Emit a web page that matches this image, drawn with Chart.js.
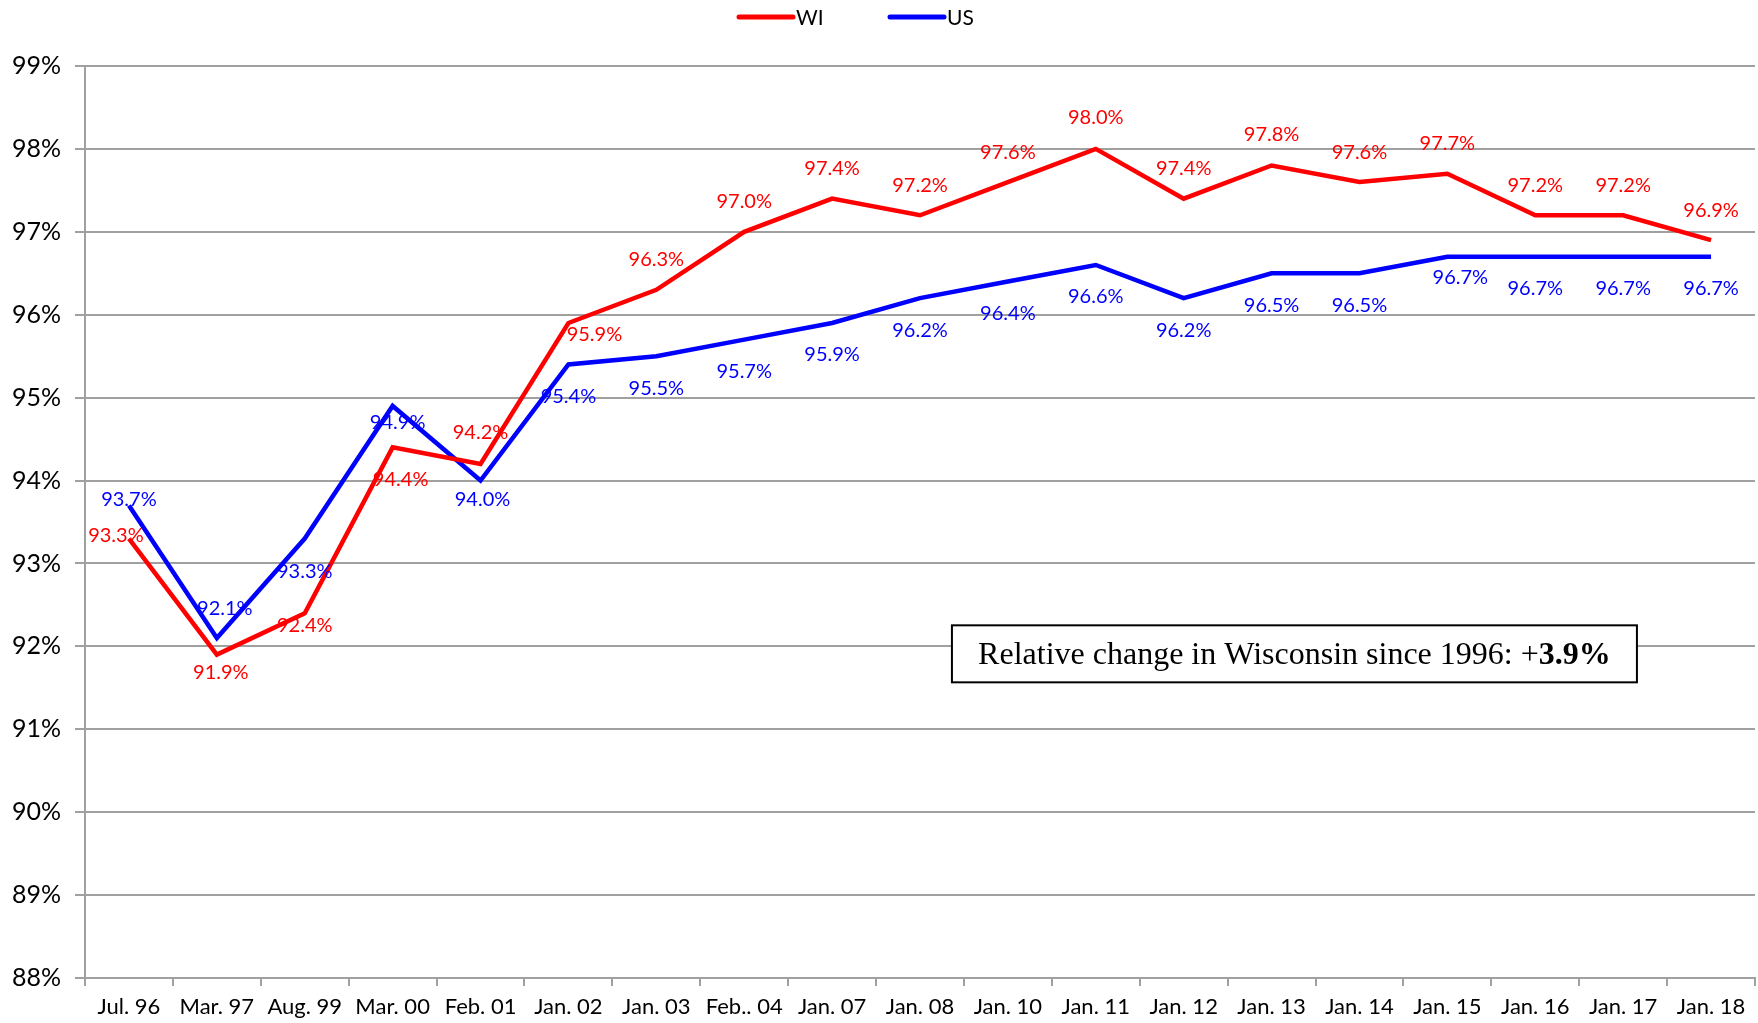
<!DOCTYPE html>
<html>
<head>
<meta charset="utf-8">
<script src="https://cdn.jsdelivr.net/npm/chart.js@4"></script>
<style>
  html, body { margin: 0; padding: 0; background: #fff; }
  #wrap { width: 1758px; height: 1023px; }
</style>
</head>
<body>
<div id="wrap"><canvas id="chart"></canvas></div>
<script>
// données
const categories = ["Jul. 96", "Mar. 97", "Aug. 99", "Mar. 00", "Feb. 01", "Jan. 02", "Jan. 03", "Feb.. 04", "Jan. 07", "Jan. 08",
  "Jan. 10", "Jan. 11", "Jan. 12", "Jan. 13", "Jan. 14", "Jan. 15", "Jan. 16", "Jan. 17", "Jan. 18"];
const wiValues = [93.3, 91.9, 92.4, 94.4, 94.2, 95.9, 96.3, 97.0, 97.4, 97.2, 97.6, 98.0, 97.4, 97.8, 97.6, 97.7, 97.2, 97.2, 96.9];
const usValues = [93.7, 92.1, 93.3, 94.9, 94.0, 95.4, 95.5, 95.7, 95.9, 96.2, 96.4, 96.6, 96.2, 96.5, 96.5, 96.7, 96.7, 96.7, 96.7];
const yTicks = [88, 89, 90, 91, 92, 93, 94, 95, 96, 97, 98, 99];
const noteText = "Relative change in Wisconsin since 1996: +";
const noteValue = "3.9%";

// décalage des étiquettes (px) par point
const wiLabelShift = [[-13, -3], [4, 18], [0, 12], [8, 32], [0, -31], [26, 12], [0, -30], [0, -30], [0, -30], [0, -30],
  [0, -30], [0, -31], [0, -30], [0, -31], [0, -30], [0, -30], [0, -30], [0, -30], [0, -30]];
const usLabelShift = [[0, -6], [8, -30], [0, 33], [5, 17], [2, 19], [0, 32], [0, 32], [0, 32], [0, 32], [0, 32],
  [0, 32], [0, 32], [0, 32], [0, 32], [0, 32], [13, 21], [0, 32], [0, 32], [0, 32]];

const FONT = "Lato";
const GRID = "#a0a0a0";

// étiquettes de valeurs
const valueLabels = {
  id: "valueLabels",
  afterDatasetsDraw(chart) {
    const ctx = chart.ctx;
    ctx.save();
    ctx.font = "20px " + FONT;
    ctx.textAlign = "center";
    ctx.textBaseline = "middle";
    chart.data.datasets.forEach((ds, di) => {
      const meta = chart.getDatasetMeta(di);
      meta.data.forEach((pt, i) => {
        const sh = ds.labelShift[i];
        ctx.fillStyle = ds.borderColor;
        ctx.fillText(ds.data[i].toFixed(1) + "%", pt.x + sh[0], pt.y + sh[1]);
      });
    });
    ctx.restore();
  }
};

// légende en haut
const topLegend = {
  id: "topLegend",
  afterDraw(chart) {
    const ctx = chart.ctx;
    const y = 17;
    let x = 739;
    ctx.save();
    ctx.font = "21px " + FONT;
    ctx.textBaseline = "middle";
    ctx.textAlign = "left";
    chart.data.datasets.forEach(ds => {
      ctx.strokeStyle = ds.borderColor;
      ctx.lineWidth = 5;
      ctx.lineCap = "round";
      ctx.beginPath();
      ctx.moveTo(x, y);
      ctx.lineTo(x + 54, y);
      ctx.stroke();
      ctx.fillStyle = "#000";
      ctx.fillText(ds.label, x + 57, y + 1);
      x += 151;
    });
    ctx.restore();
  }
};

// encadré
const noteBox = {
  id: "noteBox",
  afterDraw(chart) {
    const ctx = chart.ctx;
    const cx = chart.scales.x.getPixelForValue(13.26);
    const cy = chart.scales.y.getPixelForValue(91.91);
    const w = 685, h = 57;
    const f = "32px 'Liberation Serif'", fb = "bold 32px 'Liberation Serif'";
    ctx.save();
    ctx.fillStyle = "#fff";
    ctx.fillRect(cx - w / 2, cy - h / 2, w, h);
    ctx.strokeStyle = "#000";
    ctx.lineWidth = 2;
    ctx.strokeRect(cx - w / 2, cy - h / 2, w, h);
    ctx.fillStyle = "#000";
    ctx.textBaseline = "middle";
    ctx.font = f;
    const w1 = ctx.measureText(noteText).width;
    ctx.font = fb;
    const w2 = ctx.measureText(noteValue).width;
    let x = cx - (w1 + w2) / 2;
    ctx.textAlign = "left";
    ctx.font = f;
    ctx.fillText(noteText, x, cy + 2);
    ctx.font = fb;
    ctx.fillText(noteValue, x + w1, cy + 2);
    ctx.restore();
  }
};

new Chart(document.getElementById("chart"), {
  type: "line",
  data: {
    labels: categories,
    datasets: [
      { label: "WI", data: wiValues, borderColor: "#ff0000", backgroundColor: "#ff0000", borderWidth: 4.5, labelShift: wiLabelShift },
      { label: "US", data: usValues, borderColor: "#0000ff", backgroundColor: "#0000ff", borderWidth: 4.5, labelShift: usLabelShift }
    ]
  },
  options: {
    responsive: true,
    maintainAspectRatio: false,
    animation: false,
    layout: { padding: { top: 66, right: 3, left: 0, bottom: 0 } },
    elements: {
      line: { tension: 0 },
      point: { radius: 0, hoverRadius: 0 }
    },
    plugins: {
      tooltip: { enabled: false },
      legend: { display: false }
    },
    scales: {
      x: {
        offset: true,
        grid: { drawOnChartArea: false, offset: true, color: GRID, lineWidth: 2, tickLength: 8 },
        border: { color: GRID, width: 2 },
        ticks: { color: "#000", font: { family: FONT, size: 22 }, padding: 8, maxRotation: 0, autoSkip: false },
        afterFit(scale) { scale.height = 45; }
      },
      y: {
        min: 88,
        max: 99,
        afterBuildTicks(scale) { scale.ticks = yTicks.map(v => ({ value: v })); },
        grid: { color: GRID, lineWidth: 2, tickLength: 10 },
        border: { color: GRID, width: 2 },
        ticks: { color: "#000", font: { family: FONT, size: 25 }, padding: 14, callback: v => v + "%" },
        afterFit(scale) { scale.width = 85; }
      }
    }
  },
  plugins: [valueLabels, noteBox, topLegend]
});
</script>
</body>
</html>
